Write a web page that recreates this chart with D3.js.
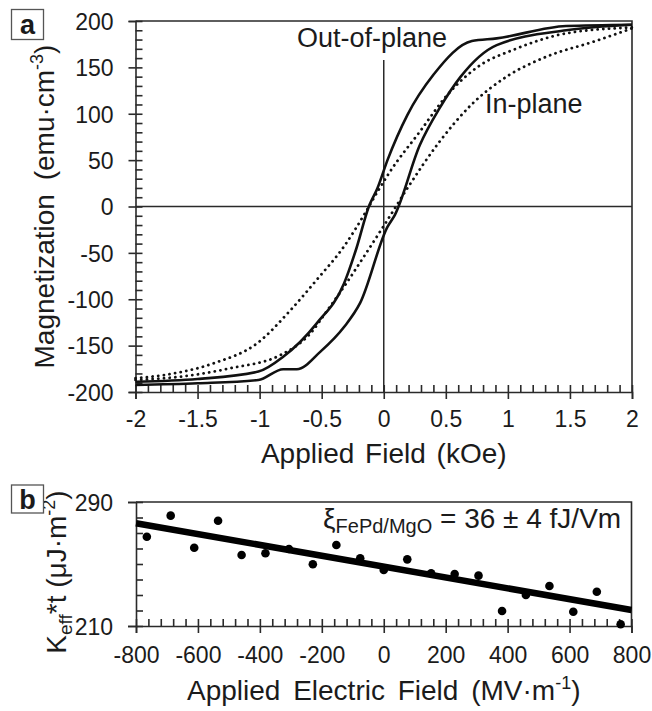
<!DOCTYPE html>
<html><head><meta charset="utf-8">
<script src="https://cdn.jsdelivr.net/npm/d3@7"></script>
<style>
body{margin:0;background:#fff}
svg text{font-family:"Liberation Sans",Arial,Helvetica,sans-serif;fill:#1b1b1b}
</style></head><body>
<svg id="c" width="652" height="711"></svg>
<script>
// ---------- Panel a data ----------
const fieldTicks = [-2,-1.5,-1,-0.5,0,0.5,1,1.5,2];
const fieldTickLabels = ["-2","-1.5","-1","-0.5","0","0.5","1","1.5","2"];
const magTicks = [200,150,100,50,0,-50,-100,-150,-200];
const magTickLabels = ["200","150","100","50","0","-50","-100","-150","-200"];

// Out-of-plane loop (solid): descending branch then ascending branch
const oopDownH = [2,1.47,0.91,0.71,0.40,0.19,0.03,-0.05,-0.12,-0.22,-0.32,-0.54,-0.81,-1.01,-1.5,-2];
const oopDownM = [196,194.6,181.3,178.4,142,98.6,50,20,0,-45,-83,-126,-162,-178,-186,-189];
const oopUpH = [-2,-1.5,-1.01,-0.81,-0.70,-0.51,-0.32,-0.19,0.03,0.09,0.29,0.45,0.62,0.91,1.47,2];
const oopUpM = [-192.5,-190.6,-187,-175.5,-175.5,-156.5,-130,-104,-22,-9,66,106,140,174,190,196];

// In-plane loop (dotted)
const ipDownH = [2,1.47,1.04,0.78,0.51,0.29,0.05,-0.05,-0.15,-0.32,-0.54,-0.75,-1.02,-1.37,-1.77,-2];
const ipDownM = [193,186.7,168.7,152.6,120,80.6,37.5,16,-7,-43,-79,-111.6,-147.5,-169,-181.7,-185];
const ipUpH = [-2,-1.64,-1.24,-0.83,-0.59,-0.46,-0.32,-0.16,0.03,0.19,0.45,0.70,0.99,1.31,1.69,2];
const ipUpM = [-187,-183.5,-174.5,-160,-136.7,-113,-86.5,-54,-14.6,19.6,70,109,140,161.5,177.7,192];

// ---------- Panel b data ----------
const eTicks = [-800,-600,-400,-200,0,200,400,600,800];
const eTickLabels = ["-800","-600","-400","-200","0","200","400","600","800"];
const kTicks = [290,210];
const kTickLabels = ["290","210"];
const eField = [-765,-688,-612,-535,-459,-382,-306,-229,-153,-76,0,76,153,229,306,382,459,535,612,688,765];
const keff = [267.6,281.2,260.5,277.9,255.8,256.9,259.7,249.8,262.3,253.7,246.1,253,244,243.5,242.5,219.7,230,235.8,219.2,232.1,211.1];
const fitE = [-800,800];
const fitK = [276.3,220.3];

// ---------- drawing ----------
const svg = d3.select("#c");
const AX = "#2a2a2a";
const FONT = '"Liberation Sans",Arial,sans-serif';

// Panel a
const A = {l:135.5, r:632, t:21, b:392};
const xA = d3.scaleLinear().domain([-2,2]).range([A.l,A.r]);
const yA = d3.scaleLinear().domain([-200,200]).range([A.b,A.t]);

const gA = svg.append("g");
gA.append("path").attr("d",`M${A.l},${A.t}H${A.r}V${A.b}`).attr("fill","none").attr("stroke",AX).attr("stroke-width",1.6);
gA.append("line").attr("x1",A.l).attr("x2",A.r).attr("y1",yA(0)).attr("y2",yA(0)).attr("stroke",AX).attr("stroke-width",1.5);
gA.append("line").attr("x1",xA(0)).attr("x2",xA(0)).attr("y1",yA(160)).attr("y2",A.b).attr("stroke",AX).attr("stroke-width",1.5);

function styleAxis(g, size){
  g.attr("font-family",FONT).attr("font-size",size);
  g.selectAll("line").attr("stroke",AX).attr("stroke-width",1.6);
  g.selectAll("path.domain").attr("stroke",AX).attr("stroke-width",1.6);
  g.selectAll("text").attr("fill","#1b1b1b");
}
const magMinor = d3.range(-200,201,10);
const fieldMinor = d3.range(-20,21,1).map(d=>d/10);

const yaOut = gA.append("g").attr("transform",`translate(${A.l},0)`)
  .call(d3.axisLeft(yA).tickValues(magTicks).tickSize(7).tickPadding(15).tickFormat((d,i)=>magTickLabels[i]));
styleAxis(yaOut,23);
yaOut.selectAll("text").attr("dy","0.36em");
const yaIn = gA.append("g").attr("transform",`translate(${A.l},0)`)
  .call(d3.axisLeft(yA).tickValues(magMinor).tickSize(-7).tickFormat(""));
styleAxis(yaIn,10); yaIn.select(".domain").remove();
const xaOut = gA.append("g").attr("transform",`translate(0,${A.b})`)
  .call(d3.axisBottom(xA).tickValues(fieldTicks).tickSize(7).tickFormat((d,i)=>fieldTickLabels[i]));
styleAxis(xaOut,23);
xaOut.selectAll("text").attr("y",35).attr("dy",null);
const xaIn = gA.append("g").attr("transform",`translate(0,${A.b})`)
  .call(d3.axisBottom(xA).tickValues(fieldMinor).tickSize(-7).tickFormat(""));
styleAxis(xaIn,10); xaIn.select(".domain").remove();

gA.append("rect").attr("x",294).attr("y",22).attr("width",164).attr("height",38).attr("fill","#fff");

const lineA = d3.line().x(d=>xA(d[0])).y(d=>yA(d[1])).curve(d3.curveMonotoneX);
const branch = (H,M)=>H.map((h,i)=>[h,M[i]]).sort((a,b)=>a[0]-b[0]);
[branch(ipDownH,ipDownM), branch(ipUpH,ipUpM)].forEach(p=>{
  gA.append("path").attr("d",lineA(p)).attr("fill","none").attr("stroke","#111")
    .attr("stroke-width",2.8).attr("stroke-linecap","round").attr("stroke-dasharray","0.1,5.6");
});
[branch(oopDownH,oopDownM), branch(oopUpH,oopUpM)].forEach(p=>{
  gA.append("path").attr("d",lineA(p)).attr("fill","none").attr("stroke","#111")
    .attr("stroke-width",2.6).attr("stroke-linejoin","round");
});

gA.append("text").attr("x",297).attr("y",47).attr("font-size",27).text("Out-of-plane");
gA.append("text").attr("x",485).attr("y",113).attr("font-size",27).text("In-plane");

gA.append("text").attr("x",xA(0)).attr("y",463).attr("text-anchor","middle").attr("font-size",28)
  .attr("word-spacing",3).text("Applied Field (kOe)");
const ylabA = gA.append("text").attr("transform",`translate(54,${(A.t+A.b)/2}) rotate(-90)`)
  .attr("text-anchor","middle").attr("font-size",28).attr("word-spacing",6);
ylabA.append("tspan").text("Magnetization (emu·cm");
ylabA.append("tspan").attr("font-size",18).attr("dy",-11).text("-3");
ylabA.append("tspan").attr("dy",11).text(")");

svg.append("rect").attr("x",11.5).attr("y",9.5).attr("width",32).attr("height",30).attr("fill","#fff").attr("stroke","#555").attr("stroke-width",1.3);
svg.append("text").attr("x",27.5).attr("y",34).attr("text-anchor","middle").attr("font-size",27).attr("font-weight","bold").text("a");

// Panel b
const B = {l:136, r:631.5, t:502, b:626};
const xB = d3.scaleLinear().domain([-800,800]).range([B.l,B.r]);
const yB = d3.scaleLinear().domain([210,290]).range([B.b,B.t]);
const gB = svg.append("g");
gB.append("path").attr("d",`M${B.l},${B.t}H${B.r}V${B.b}`).attr("fill","none").attr("stroke",AX).attr("stroke-width",1.6);

const kMinor = d3.range(210,291,10);
const eMinor = d3.range(-800,801,40);
const ybOut = gB.append("g").attr("transform",`translate(${B.l},0)`)
  .call(d3.axisLeft(yB).tickValues(kTicks).tickSize(8).tickPadding(15).tickFormat((d,i)=>kTickLabels[i]));
styleAxis(ybOut,23); ybOut.selectAll("text").attr("dy","0.36em");
const ybIn = gB.append("g").attr("transform",`translate(${B.l},0)`)
  .call(d3.axisLeft(yB).tickValues(kMinor).tickSize(-7).tickFormat(""));
styleAxis(ybIn,10); ybIn.select(".domain").remove();
const xbOut = gB.append("g").attr("transform",`translate(0,${B.b})`)
  .call(d3.axisBottom(xB).tickValues(eTicks).tickSize(7).tickFormat((d,i)=>eTickLabels[i]));
styleAxis(xbOut,23); xbOut.selectAll("text").attr("y",37).attr("dy",null);
const xbIn = gB.append("g").attr("transform",`translate(0,${B.b})`)
  .call(d3.axisBottom(xB).tickValues(eMinor).tickSize(-7).tickFormat(""));
styleAxis(xbIn,10); xbIn.select(".domain").remove();

gB.append("path").attr("d",d3.line().x(d=>xB(d[0])).y(d=>yB(d[1]))(fitE.map((e,i)=>[e,fitK[i]])))
  .attr("stroke","#000").attr("stroke-width",6.5).attr("fill","none");
gB.selectAll("circle.pt").data(eField.map((e,i)=>[e,keff[i]])).enter().append("circle")
  .attr("cx",d=>xB(d[0])).attr("cy",d=>yB(d[1])).attr("r",4.3).attr("fill","#000");

const ann = gB.append("text").attr("x",323).attr("y",528).attr("font-size",28);
ann.append("tspan").text("ξ");
ann.append("tspan").attr("font-size",20).attr("dy",5).text("FePd/MgO");
ann.append("tspan").attr("dy",-5).text(" = 36 ± 4 fJ/Vm");

const xlabB = gB.append("text").attr("x",xB(0)).attr("y",700).attr("text-anchor","middle").attr("font-size",28)
  .attr("word-spacing",5);
xlabB.append("tspan").text("Applied Electric Field (MV·m");
xlabB.append("tspan").attr("font-size",18).attr("dy",-11).text("-1");
xlabB.append("tspan").attr("dy",11).text(")");

const ylabB = gB.append("text").attr("transform",`translate(66,572) rotate(-90)`)
  .attr("text-anchor","middle").attr("font-size",28);
ylabB.append("tspan").text("K");
ylabB.append("tspan").attr("font-size",19).attr("dy",6).text("eff");
ylabB.append("tspan").attr("dy",-6).text("*t (μJ·m");
ylabB.append("tspan").attr("font-size",18).attr("dy",-11).text("-2");
ylabB.append("tspan").attr("dy",11).text(")");

svg.append("rect").attr("x",11.5).attr("y",485).attr("width",32).attr("height",28).attr("fill","#fff").attr("stroke","#555").attr("stroke-width",1.3);
svg.append("text").attr("x",27.5).attr("y",508.5).attr("text-anchor","middle").attr("font-size",27).attr("font-weight","bold").text("b");
</script></body></html>
